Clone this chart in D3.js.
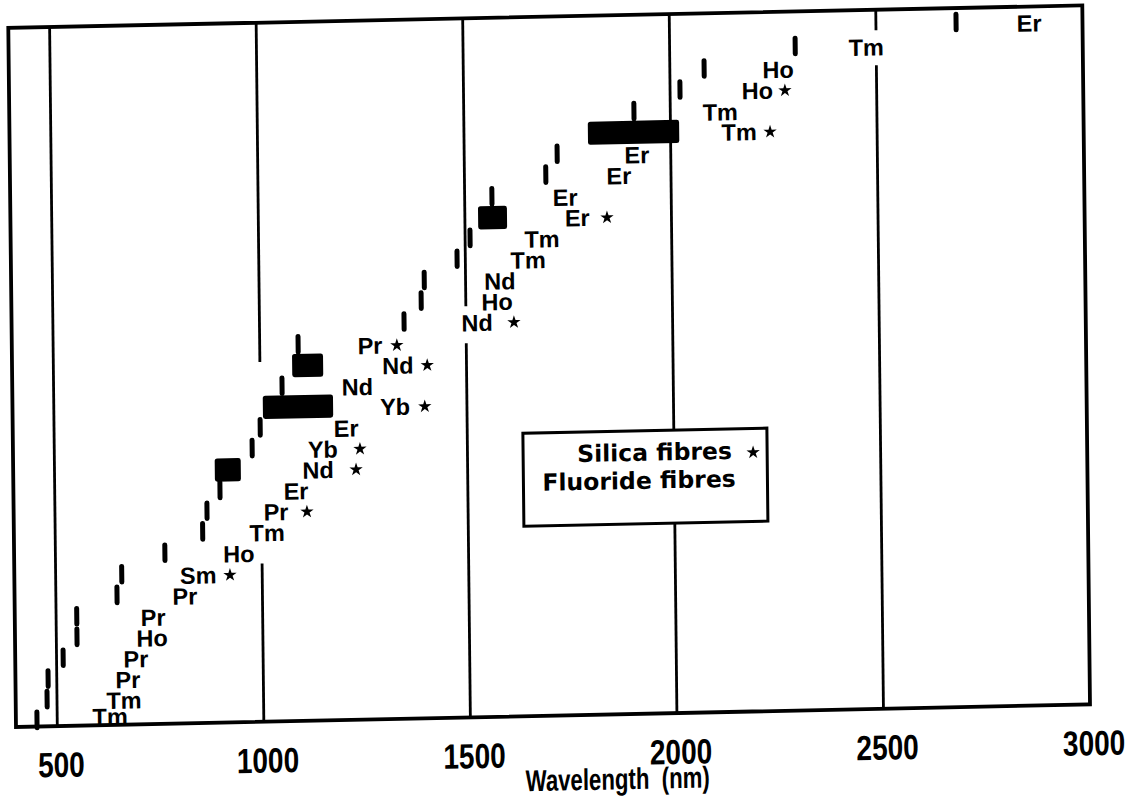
<!DOCTYPE html>
<html>
<head>
<meta charset="utf-8">
<script src="https://cdn.jsdelivr.net/npm/d3@7"></script>
<style>
  body { margin: 0; background: #fff; }
  svg { display: block; }
  .ion { font-family: 'Liberation Sans', Arial, sans-serif; font-weight: bold; font-size: 23.5px; }
  .tick text { font-family: 'Liberation Sans', Arial, sans-serif; font-weight: bold; font-size: 35px; }
  .axis-title { font-family: 'Liberation Sans', Arial, sans-serif; font-weight: bold; font-size: 30px; white-space: pre; }
  .legend text { font-family: 'DejaVu Sans', sans-serif; font-weight: bold; font-size: 23.5px; }
</style>
</head>
<body>
<div id="chart"></div>
<script>
// one row per laser line, bottom (row 0) to top
const ions = ['Tm', 'Tm', 'Pr', 'Pr', 'Ho', 'Pr', 'Pr', 'Sm', 'Ho', 'Tm', 'Pr', 'Er',
  'Nd', 'Yb', 'Er', 'Yb', 'Nd', 'Nd', 'Pr', 'Nd', 'Ho', 'Nd', 'Tm', 'Tm', 'Er', 'Er',
  'Er', 'Er', 'Tm', 'Tm', 'Ho', 'Ho', 'Tm', 'Er'];
// wavelength span of each line (nm); equal ends = single line
const lineFrom = [451, 476, 479, 516, 550, 550, 648, 660, 765, 857, 868, 900,
  888, 979, 999, 1006, 1053, 1078, 1093, 1350, 1392, 1400, 1480, 1512, 1532, 1566,
  1697, 1725, 1800, 1912, 2024, 2083, 2304, 2694];
const lineTo = [451, 476, 479, 516, 550, 550, 648, 660, 765, 857, 868, 900,
  951, 979, 999, 1176, 1053, 1153, 1093, 1350, 1392, 1400, 1480, 1512, 1602, 1566,
  1697, 1725, 2021, 1912, 2024, 2083, 2304, 2694];
// where the ion name sits along the wavelength axis (nm)
const labelNm = [628, 662, 672, 692, 732, 735, 812, 845, 944, 1013, 1035, 1084,
  1138, 1150, 1207, 1326, 1235, 1334, 1267, 1527, 1576, 1583, 1652, 1686, 1772, 1743,
  1874, 1918, 2166, 2121, 2211, 2262, 2476, 2871];
// star marks silica fibre lasers (nm position of the star, null = fluoride)
const starNm = [null, null, null, null, null, null, null, 922, null, null, 1110, null,
  1230, 1240, null, 1398, null, 1405, 1332, 1616, null, null, null, null, 1844, null,
  null, null, 2241, null, 2278, null, null, null];

const axisTicks = [500, 1000, 1500, 2000, 2500, 3000];
const gridNm = [500, 1000, 1500, 2000, 2500];
// stretches (in rows) where the original gridlines are left blank
const gapNm = [1000, 1500, 2500];
const gapFrom = [7.7, 18.2, 31.3];
const gapTo = [17.5, 20.0, 33.0];

const width = 1125;
const height = 806;
const rows = 34;
const narrow = 0.8; //the scan uses a condensed face for the axis

const svg = d3.select('#chart').append('svg').attr('width', width).attr('height', height);
svg.append('rect').attr('width', width).attr('height', height).attr('fill', '#fff');

// the scanned figure is slightly skewed, so the whole plot is sheared a little
const g = svg
  .append('g')
  .attr('transform', 'translate(14,728) matrix(1,-0.021,0.011,1,0,0) translate(-14,-728)');

const x = d3.scaleLinear().domain([400, 3000]).range([16, 1090]);
const y = d3.scaleLinear().domain([0, rows]).range([727, 28]);

//gridlines, split where the gaps are
const segs = gridNm.flatMap((nm) => {
  const k = gapNm.indexOf(nm);
  return k < 0 ? [[nm, 0, rows]] : [[nm, 0, gapFrom[k]], [nm, gapTo[k], rows]];
});
g.append('g')
  .selectAll('line')
  .data(segs)
  .join('line')
  .attr('x1', (d) => x(d[0]))
  .attr('x2', (d) => x(d[0]))
  .attr('y1', (d) => y(d[1]))
  .attr('y2', (d) => y(d[2]))
  .attr('stroke', '#000')
  .attr('stroke-width', 2.8);

//frame
g.append('rect')
  .attr('x', x(400))
  .attr('y', y(rows))
  .attr('width', x(3000) - x(400))
  .attr('height', y(0) - y(rows))
  .attr('fill', 'none')
  .attr('stroke', '#000')
  .attr('stroke-width', 3.8);

const idx = d3.range(ions.length);

//single lines
g.append('g')
  .selectAll('line')
  .data(idx.filter((i) => lineFrom[i] === lineTo[i]))
  .join('line')
  .attr('x1', (i) => x(lineFrom[i]))
  .attr('x2', (i) => x(lineFrom[i]))
  .attr('y1', (i) => y(i - 0.06))
  .attr('y2', (i) => y(i + 0.7))
  .attr('stroke', '#000')
  .attr('stroke-width', 5)
  .attr('stroke-linecap', 'round');

//tunable ranges
g.append('g')
  .selectAll('rect')
  .data(idx.filter((i) => lineFrom[i] !== lineTo[i]))
  .join('rect')
  .attr('x', (i) => x(lineFrom[i]))
  .attr('y', (i) => y(i + 0.85))
  .attr('width', (i) => x(lineTo[i]) - x(lineFrom[i]))
  .attr('height', (i) => y(i - 0.28) - y(i + 0.85))
  .attr('rx', 2.5)
  .attr('fill', '#000');

//ion names
g.append('g')
  .selectAll('text')
  .data(idx)
  .join('text')
  .attr('class', 'ion')
  .attr('x', (i) => x(labelNm[i]))
  .attr('y', (i) => Math.min(y(i + 0.17) + 8, y(0)))
  .attr('text-anchor', 'middle')
  .text((i) => ions[i]);

const star = d3.symbol(d3.symbolStar, 55);
g.append('g')
  .selectAll('path')
  .data(idx.filter((i) => starNm[i] !== null))
  .join('path')
  .attr('d', star)
  .attr('transform', (i) => `translate(${x(starNm[i])},${y(i + 0.17)})`)
  .attr('fill', '#000');

//x axis
const xAxis = d3
  .axisBottom(x)
  .tickValues(axisTicks)
  .tickFormat(d3.format('d'))
  .tickSize(0)
  .tickPadding(26);
const ax = g.append('g').attr('transform', `translate(0,${y(0)})`).call(xAxis);
ax.select('.domain').remove();
ax.selectAll('text')
  .attr('dx', 4)
  .attr('fill', '#000')
  .attr('transform', `scale(${narrow},1)`);

g.append('text')
  .attr('class', 'axis-title')
  .attr('transform', `translate(617,802) scale(0.74,1)`)
  .attr('text-anchor', 'middle')
  .text('Wavelength  (nm)');

//legend
const legend = g.append('g').attr('class', 'legend');
legend
  .append('rect')
  .attr('x', 526)
  .attr('y', 444)
  .attr('width', 244)
  .attr('height', 93)
  .attr('fill', '#fff')
  .attr('stroke', '#000')
  .attr('stroke-width', 3);
legend.append('text').attr('x', 580).attr('y', 474).text('Silica fibres');
legend
  .append('path')
  .attr('d', star)
  .attr('transform', 'translate(756,468)')
  .attr('fill', '#000');
legend.append('text').attr('x', 545).attr('y', 502).text('Fluoride fibres');
</script>
</body>
</html>
